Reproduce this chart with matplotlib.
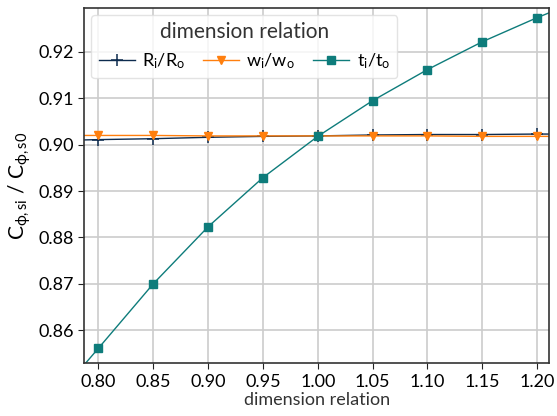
import matplotlib
matplotlib.use("Agg")
import matplotlib.pyplot as plt
import numpy as np

plt.rcParams['font.family'] = ['Lato', 'DejaVu Sans']
plt.rcParams['mathtext.fontset'] = 'custom'
plt.rcParams['mathtext.rm'] = 'Lato'
plt.rcParams['mathtext.it'] = 'Lato'

# line samples (markers only at 0.80 ... 1.20)
x_line = [0.78, 0.80, 0.85, 0.90, 0.95, 1.00, 1.05, 1.10, 1.15, 1.20, 1.22]
r_ratio = [0.9010, 0.9011, 0.9013, 0.9016, 0.9018, 0.9019, 0.9021, 0.9022, 0.9022, 0.9023, 0.9023]
w_ratio = [0.9020, 0.9020, 0.9020, 0.9019, 0.9019, 0.9019, 0.9019, 0.9019, 0.9018, 0.9018, 0.9018]
t_ratio = [0.8506, 0.8561, 0.8700, 0.8823, 0.8929, 0.9018, 0.9095, 0.9162, 0.9222, 0.9274, 0.9293]

labels = [r'R$_\mathregular{i}$/R$_\mathregular{o}$',
          r'w$_\mathregular{i}$/w$_\mathregular{o}$',
          r't$_\mathregular{i}$/t$_\mathregular{o}$']
colors = ['#0d2b4e', '#ff7f0e', '#0e7c7b']

fig = plt.figure(figsize=(5.57, 4.16), dpi=100)
ax = fig.add_axes([0.151, 0.127, 0.835, 0.854])

mk = list(range(1, 10))
ax.plot(x_line, r_ratio, color=colors[0], lw=1.0, marker='+', ms=8, mew=1.1, markevery=mk, label=labels[0])
ax.plot(x_line, w_ratio, color=colors[1], lw=1.0, marker='v', ms=6, markevery=mk, label=labels[1])
ax.plot(x_line, t_ratio, color=colors[2], lw=1.0, marker='s', ms=6, markevery=mk, label=labels[2])

ax.set_xlim(0.787, 1.211)
ax.set_ylim(0.8529, 0.9295)
ax.set_xticks(np.arange(0.80, 1.201, 0.05))
ax.set_yticks([0.86, 0.87, 0.88, 0.89, 0.90, 0.91, 0.92])
ax.xaxis.set_major_formatter(matplotlib.ticker.FormatStrFormatter('%.2f'))
ax.yaxis.set_major_formatter(matplotlib.ticker.FormatStrFormatter('%.2f'))
ax.tick_params(labelsize=13, color='#222222', length=4)
ax.grid(True, color='#cccccc', lw=1.2)
ax.set_axisbelow(True)
for s in ax.spines.values():
    s.set_color('#333333')
    s.set_linewidth(1.2)

ax.set_xlabel('dimension relation', fontsize=13, color='#333333', labelpad=2)
ax.set_ylabel(r'C$_\mathregular{\phi,si}$ / C$_\mathregular{\phi,s0}$', fontsize=15, labelpad=4)

leg = ax.legend(title='dimension relation', ncol=3, loc='upper left', fontsize=13,
                title_fontsize=15, columnspacing=1.0, handlelength=2.0, handletextpad=0.4,
                borderaxespad=0.4, framealpha=0.8, edgecolor='#dddddd')
leg.get_title().set_color('#333333')

fig.savefig('out.png', dpi=100)
